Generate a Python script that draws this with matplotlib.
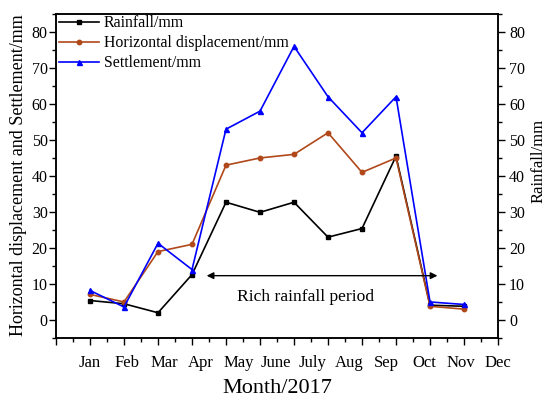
import matplotlib
matplotlib.use('Agg')
import matplotlib.pyplot as plt
from matplotlib.ticker import MultipleLocator
from matplotlib.transforms import blended_transform_factory

plt.rcParams['font.family'] = ['Liberation Serif', 'DejaVu Serif']

months = ['Jan', 'Feb', 'Mar', 'Apr', 'May', 'June', 'July', 'Aug', 'Sep', 'Oct', 'Nov', 'Dec']
pos = list(range(1, 13))
rainfall = [5.4, 4.5, 2.0, 12.6, 32.7, 29.9, 32.7, 23.0, 25.4, 45.5, 4.1, 3.8]
horizontal = [7.1, 5.0, 19.0, 21.0, 43.0, 45.0, 46.0, 52.0, 41.0, 45.0, 3.8, 3.0]
settlement = [8.2, 3.6, 21.3, 14.0, 53.0, 58.0, 76.0, 62.0, 52.0, 62.0, 5.0, 4.3]

fig = plt.figure(figsize=(5.5, 3.99), dpi=100)
ax = fig.add_axes([0.1018, 0.153, 0.8037, 0.812])
ax2 = ax.twinx()

l1, = ax.plot(pos, rainfall, color='black', marker='s', ms=3.2, lw=1.2, label='Rainfall/mm')
l2, = ax.plot(pos, horizontal, color='#B0481A', marker='o', ms=3.2, lw=1.2,
              label='Horizontal displacement/mm')
l3, = ax.plot(pos, settlement, color='#0000FF', marker='^', ms=3.6, lw=1.2, label='Settlement/mm')

for a in (ax, ax2):
    a.set_ylim(-5, 85)
    a.yaxis.set_major_locator(MultipleLocator(10))
    a.yaxis.set_minor_locator(MultipleLocator(5))
    a.tick_params(axis='y', which='major', length=5, width=1, labelsize=11.5, direction='out', pad=3)
    a.tick_params(axis='y', which='minor', length=3, width=1, direction='out')
    for s in a.spines.values():
        s.set_linewidth(1.1)
ax.tick_params(axis='y', which='major', pad=1)

ax.set_yticks(range(0, 81, 10))
ax2.set_yticks(range(0, 81, 10))

ax.set_xlim(0, 13)
ax.set_xticks(range(0, 14))
ax.set_xticklabels([])
ax.xaxis.set_minor_locator(MultipleLocator(0.5))
ax.tick_params(axis='x', which='major', length=5, width=1, direction='out')
ax.tick_params(axis='x', which='minor', length=3, width=1, direction='out')

# month names spread evenly from the first data point to the right edge
trans = blended_transform_factory(ax.transData, ax.transAxes)
for i, m in enumerate(months):
    ax.text(1 + i * 12 / 11, -0.078, m, transform=trans, ha='center', va='center', fontsize=12)

ax.set_xlabel('Month/2017', fontsize=16)
ax.xaxis.set_label_coords(0.5, -0.128)
ax.set_ylabel('Horizontal displacement and Settlement/mm', fontsize=13)
ax.yaxis.set_label_coords(-0.066, 0.503)
ax2.set_ylabel('Rainfall/mm', fontsize=12)
ax2.yaxis.set_label_coords(1.074, 0.546)

ax.annotate('', xy=(4.35, 12.3), xytext=(11.3, 12.3),
            arrowprops=dict(arrowstyle='<|-|>', color='black', lw=1.0, mutation_scale=10))
ax.text(7.35, 6.4, 'Rich rainfall period', ha='center', va='center', fontsize=12.6)

ax.legend(handles=[l1, l2, l3], loc='upper left', frameon=False, fontsize=11.4,
          bbox_to_anchor=(-0.014, 1.025), handlelength=2.5, handletextpad=0.3,
          labelspacing=0.25, borderaxespad=0.2)

fig.savefig('out.png', dpi=100, facecolor='white')
